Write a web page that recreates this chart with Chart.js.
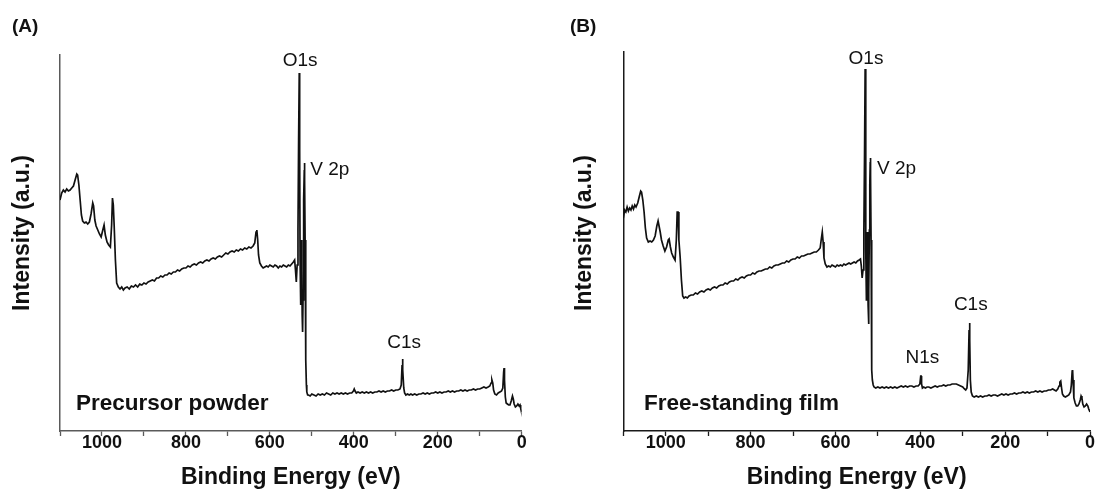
<!DOCTYPE html>
<html>
<head>
<meta charset="utf-8">
<title>XPS survey spectra</title>
<script src="https://cdn.jsdelivr.net/npm/chart.js@4.4.0/dist/chart.umd.min.js"></script>
<style>
  body { margin: 0; background: #fff; }
  #wrap { position: relative; width: 1099px; height: 492px; }
  canvas { position: absolute; top: 0; }
  #chartA { left: 0; }
  #chartB { left: 549px; }
</style>
</head>
<body>
<div id="wrap">
  <canvas id="chartA" width="549" height="492"></canvas>
  <canvas id="chartB" width="550" height="492"></canvas>
</div>
<script>
// binding energy (eV) and intensity (a.u.)
const energyA = [
  1100, 1096, 1092, 1088, 1084, 1080, 1076, 1072, 1068, 1064,
  1060, 1058, 1055, 1052, 1049, 1046, 1042, 1038, 1034, 1030,
  1026, 1022, 1020, 1017, 1014, 1010, 1006, 1002, 998, 995,
  992, 988, 984, 980, 977, 975, 973, 971, 968, 965,
  961, 957, 953, 949, 945, 940, 935, 930, 925, 920,
  915, 910, 905, 900, 895, 890, 885, 880, 875, 870,
  865, 860, 855, 850, 845, 840, 835, 830, 825, 820,
  815, 810, 805, 800, 795, 790, 785, 780, 775, 770,
  765, 760, 755, 750, 745, 740, 735, 730, 725, 720,
  715, 710, 705, 700, 695, 690, 685, 680, 675, 670,
  665, 660, 655, 650, 645, 640, 636, 633, 631, 629,
  627, 624, 620, 616, 612, 608, 604, 600, 596, 592,
  588, 584, 580, 576, 572, 568, 564, 560, 556, 552,
  548, 544, 541, 539, 537, 535, 533, 531.5, 530, 529,
  528, 527, 526, 525, 524, 523, 522, 521, 520, 519,
  518, 517.5, 517, 516, 515, 514, 513, 512, 510, 508,
  504, 500, 495, 490, 485, 480, 475, 470, 465, 460,
  455, 450, 445, 440, 435, 430, 425, 420, 415, 410,
  405, 401, 399, 397, 394, 390, 385, 380, 375, 370,
  365, 360, 355, 350, 345, 340, 335, 330, 325, 320,
  315, 310, 305, 300, 295, 290, 287, 285, 284, 283,
  281, 279, 276, 272, 268, 264, 260, 255, 250, 245,
  240, 235, 230, 225, 220, 215, 210, 205, 200, 195,
  190, 185, 180, 175, 170, 165, 160, 155, 150, 145,
  140, 135, 130, 125, 120, 115, 110, 105, 100, 95,
  90, 85, 80, 76, 73, 71, 69, 67, 64, 60,
  56, 52, 48, 45, 43, 42, 41, 39, 37, 34,
  31, 28, 25, 22, 20, 18, 15, 12, 9, 6,
  4, 2, 0
];
const intensityA = [
  231, 238, 241, 239, 242, 240, 241, 243, 245, 251,
  257, 256, 246, 231, 216, 210, 208, 209, 207, 209,
  217, 228, 225, 211, 205, 201, 197, 194, 201, 206,
  196, 189, 186, 184, 206, 233, 226, 206, 171, 148,
  144, 142, 144, 141, 143, 144, 142, 145, 144, 146,
  144, 147, 146, 148, 147, 149, 150, 151, 150, 153,
  153, 155, 154, 156, 156, 158, 157, 159, 159, 161,
  160, 162, 163, 163, 165, 164, 166, 167, 166, 168,
  169, 168, 170, 171, 170, 172, 173, 172, 174, 175,
  174, 176, 178, 177, 179, 180, 179, 181, 180, 182,
  181, 183, 182, 184, 183, 185, 188, 199, 201, 191,
  176, 168, 165, 163, 164, 165, 164, 166, 165, 164,
  166, 165, 163, 165, 164, 166, 165, 164, 166, 165,
  167, 169, 171, 161, 149, 166, 201, 291, 358, 281,
  171, 126, 151, 191, 161, 116, 99, 131, 181, 231,
  261, 268, 251, 191, 121, 71, 46, 39, 36, 36,
  35, 37, 36, 35, 37, 36, 37, 36, 38, 37,
  36, 38, 37, 38, 37, 38, 37, 38, 37, 38,
  38, 40, 42, 40, 38, 39, 38, 39, 38, 39,
  38, 39, 38, 39, 39, 40, 39, 40, 39, 40,
  40, 41, 40, 41, 41, 42, 46, 66, 72, 61,
  43, 38, 36, 37, 36, 37, 36, 37, 36, 37,
  37, 38, 37, 38, 37, 38, 38, 39, 38, 39,
  38, 39, 39, 40, 39, 40, 39, 40, 40, 41,
  40, 41, 40, 41, 41, 42, 41, 42, 42, 43,
  44, 43, 44, 45, 48, 51, 48, 41, 37, 36,
  38, 39, 40, 43, 59, 63, 51, 34, 28, 27,
  26, 26, 30, 35, 32, 27, 24, 25, 27, 25,
  26, 22, 19
];

const energyB = [
  1100, 1097, 1094, 1091, 1088, 1085, 1082, 1079, 1076, 1073,
  1070, 1066, 1062, 1059, 1057, 1054, 1051, 1048, 1045, 1041,
  1037, 1033, 1029, 1025, 1021, 1018, 1016, 1013, 1010, 1006,
  1002, 998, 994, 992, 989, 986, 982, 978, 975, 973,
  971, 969, 966, 963, 960, 957, 953, 949, 945, 940,
  935, 930, 925, 920, 915, 910, 905, 900, 895, 890,
  885, 880, 875, 870, 865, 860, 855, 850, 845, 840,
  835, 830, 825, 820, 815, 810, 805, 800, 795, 790,
  785, 780, 775, 770, 765, 760, 755, 750, 745, 740,
  735, 730, 725, 720, 715, 710, 705, 700, 695, 690,
  685, 680, 675, 670, 665, 660, 655, 650, 645, 640,
  636, 633, 631, 629, 627, 624, 620, 616, 612, 608,
  604, 600, 596, 592, 588, 584, 580, 576, 572, 568,
  564, 560, 556, 552, 548, 544, 541, 539, 537, 535,
  533, 531.5, 530, 529, 528, 527, 526, 525, 524, 523,
  522, 521, 520, 519, 518, 517.5, 517, 516, 515, 514,
  513, 511, 509, 505, 500, 495, 490, 485, 480, 475,
  470, 465, 460, 455, 450, 445, 440, 435, 430, 425,
  420, 415, 410, 405, 401, 399, 398, 397, 395, 392,
  388, 384, 380, 375, 370, 365, 360, 355, 350, 345,
  340, 335, 330, 325, 320, 315, 310, 305, 300, 296,
  293, 290, 287, 285, 284, 283, 282, 280, 277, 273,
  268, 263, 258, 253, 248, 243, 238, 233, 228, 223,
  218, 213, 208, 203, 198, 193, 188, 183, 178, 173,
  168, 163, 158, 153, 148, 143, 138, 133, 128, 123,
  118, 113, 108, 103, 98, 93, 88, 84, 80, 76,
  73, 71, 69, 67, 65, 62, 58, 54, 50, 46,
  44, 42, 41, 40, 38, 35, 32, 29, 26, 23,
  21, 19, 17, 14, 11, 8, 5, 3, 1, 0
];
const intensityB = [
  213, 221, 219, 224, 220, 223, 221, 225, 222, 226,
  224, 228, 235, 240, 239, 231, 219, 203, 193, 189,
  190, 189, 191, 195, 205, 210, 210, 199, 191, 185,
  180, 184, 191, 192, 184, 178, 174, 171, 191, 219,
  219, 191, 174, 151, 135, 133, 134, 133, 135, 136,
  136, 138, 137, 139, 140, 139, 141, 142, 141, 143,
  144, 143, 145, 146, 146, 148, 147, 149, 150, 150,
  152, 151, 153, 154, 153, 155, 156, 156, 158, 157,
  159, 160, 160, 161, 162, 162, 164, 163, 165, 166,
  166, 167, 168, 168, 170, 169, 171, 172, 172, 174,
  173, 175, 175, 176, 177, 177, 178, 179, 179, 181,
  183, 193, 199, 189, 173, 167, 164, 165, 164, 166,
  165, 164, 166, 165, 166, 165, 167, 166, 167, 168,
  167, 168, 169, 168, 170, 171, 172, 165, 153, 161,
  201, 271, 362, 291, 181, 131, 161, 199, 166, 126,
  107, 141, 201, 246, 269, 273, 256, 191, 111, 61,
  51, 46, 44, 43, 44, 43, 44, 43, 44, 43,
  44, 43, 44, 43, 44, 45, 44, 45, 44, 45,
  45, 44, 45, 45, 47, 55, 55, 47, 43, 44,
  43, 44, 44, 43, 44, 45, 44, 45, 45, 46,
  45, 46, 46, 47, 47, 47, 46, 45, 44, 42,
  41, 43, 61, 101, 108, 91, 51, 39, 35, 34,
  35, 34, 35, 34, 35, 35, 36, 35, 36, 36,
  35, 36, 37, 36, 37, 36, 37, 37, 38, 37,
  38, 38, 39, 38, 39, 38, 39, 39, 40, 39,
  40, 39, 40, 40, 41, 41, 42, 41, 40, 42,
  45, 49, 50, 43, 37, 35, 34, 35, 36, 39,
  46, 60, 61, 51, 33, 28, 25, 25, 27, 31,
  35, 33, 27, 24, 25, 27, 25, 22, 20, 19
];

const xTickLabels = [1000, 800, 600, 400, 200, 0];

const peakLabelsA = ["O1s", "V 2p", "C1s"];
const peakEnergyA = [528, 457, 280];
const peakHeightA = [370, 261, 88];

const peakLabelsB = ["O1s", "V 2p", "N1s", "C1s"];
const peakEnergyB = [528, 456, 395, 281];
const peakHeightB = [372, 262, 73, 126];

const FONT = "'Liberation Sans', Arial, sans-serif";

function textPlugin(panel) {
  return {
    id: "panelText",
    afterDraw(chart) {
      const ctx = chart.ctx;
      const xs = chart.scales.x;
      const ys = chart.scales.y;
      ctx.save();
      ctx.fillStyle = "#111";

      ctx.font = "bold 19px " + FONT;
      ctx.textAlign = "left";
      ctx.textBaseline = "alphabetic";
      ctx.fillText(panel.letter, panel.letterX, 32);

      ctx.font = "bold 22.5px " + FONT;
      ctx.fillText(panel.sample, panel.sampleX, 410);

      ctx.font = "19px " + FONT;
      ctx.textAlign = "center";
      ctx.textBaseline = "middle";
      panel.peaks.forEach((p, i) => {
        ctx.fillText(p, xs.getPixelForValue(panel.peakEnergy[i]), ys.getPixelForValue(panel.peakHeight[i]));
      });

      // y axis title
      ctx.translate(panel.yTitleX, 233);
      ctx.rotate(-Math.PI / 2);
      ctx.font = "bold 23px " + FONT;
      ctx.fillText("Intensity (a.u.)", 0, 0);
      ctx.restore();
    }
  };
}

function makePanel(canvasId, panel) {
  const ctx = document.getElementById(canvasId).getContext("2d");
  return new Chart(ctx, {
    type: "line",
    data: {
      datasets: [{
        data: panel.energy.map((e, i) => ({ x: e, y: panel.intensity[i] })),
        borderColor: "#111",
        borderWidth: 1.7,
        pointRadius: 0,
        tension: 0
      }]
    },
    options: {
      responsive: false,
      animation: false,
      events: [],
      layout: { padding: { left: 0, top: panel.top, right: panel.right, bottom: 0 } },
      plugins: { legend: { display: false }, tooltip: { enabled: false } },
      scales: {
        x: {
          type: "linear",
          reverse: true,
          min: 0,
          max: 1100,
          afterFit: s => { s.height = 61; },
          ticks: {
            stepSize: 100,
            autoSkip: false,
            maxRotation: 0,
            padding: -2,
            color: "#111",
            font: { family: FONT, size: 18, weight: "bold", lineHeight: 1 },
            callback: v => xTickLabels.includes(v) ? String(v) : ""
          },
          grid: {
            display: true,
            drawOnChartArea: false,
            drawTicks: true,
            tickLength: 5,
            tickWidth: 1.3,
            tickColor: panel.axisColor
          },
          border: { display: true, color: panel.axisColor, width: 1.5 },
          title: {
            display: true,
            text: "Binding Energy (eV)",
            color: "#111",
            font: { family: FONT, size: 23, weight: "bold" },
            padding: { top: 0, bottom: 1 }
          }
        },
        y: {
          min: 0,
          max: panel.yMax,
          afterFit: s => { s.width = panel.left; },
          ticks: { display: false },
          grid: { display: false },
          border: { display: true, color: panel.axisColor, width: 1.5 }
        }
      }
    },
    plugins: [textPlugin(panel)]
  });
}

makePanel("chartA", {
  energy: energyA, intensity: intensityA,
  left: 60, top: 55, right: 27.3, yMax: 376,
  axisColor: "#5a5a5a",
  letter: "(A)", letterX: 12,
  sample: "Precursor powder", sampleX: 76,
  peaks: peakLabelsA, peakEnergy: peakEnergyA, peakHeight: peakHeightA,
  yTitleX: 23
});

makePanel("chartB", {
  energy: energyB, intensity: intensityB,
  left: 74.3, top: 52, right: 9, yMax: 379,
  axisColor: "#1a1a1a",
  letter: "(B)", letterX: 21,
  sample: "Free-standing film", sampleX: 95,
  peaks: peakLabelsB, peakEnergy: peakEnergyB, peakHeight: peakHeightB,
  yTitleX: 36
});
</script>
</body>
</html>
